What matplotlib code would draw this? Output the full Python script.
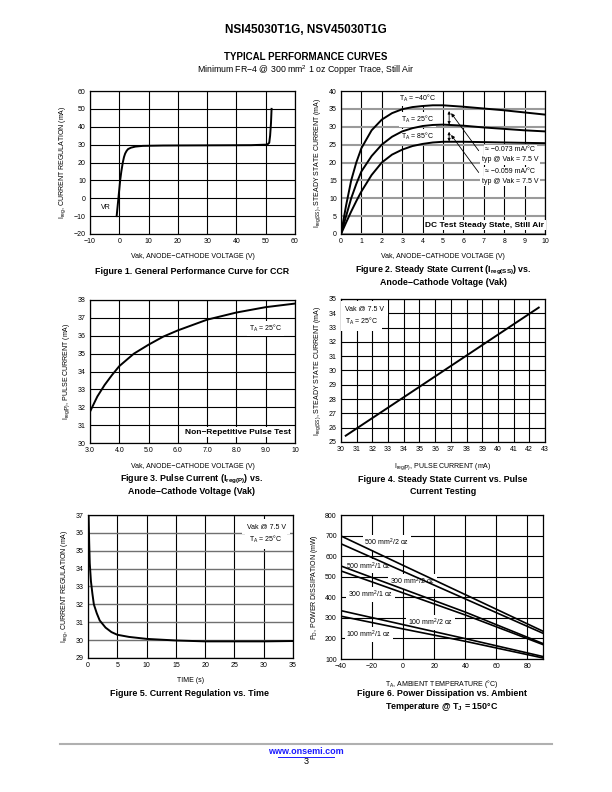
import numpy as np
import matplotlib
matplotlib.use("Agg")
import matplotlib.pyplot as plt
from matplotlib.lines import Line2D

plt.rcParams['font.family'] = ['Liberation Sans', 'DejaVu Sans']
plt.rcParams['mathtext.fontset'] = 'custom'
plt.rcParams['mathtext.rm'] = 'Liberation Sans'
plt.rcParams['mathtext.bf'] = 'Liberation Sans:bold'
plt.rcParams['mathtext.it'] = 'Liberation Sans:italic'

# ---- data ----
# Fig 1: general CCR curve
vak1 = [-0.9, -0.6, -0.3, 0.0, 0.3, 0.7, 1.2, 1.6, 2.0, 2.5, 3.0, 4.0, 5.5, 8.0,
        15, 30, 45, 50.5, 51.2, 51.5, 51.8, 52.0]
ireg1 = [-10, -5, 0, 5, 10, 15, 20, 23, 25, 26.5, 27.5, 28.3, 28.9, 29.3,
         29.5, 29.6, 29.7, 30.0, 31, 35, 42, 50]

# Fig 2: steady state current vs Vak
vak2 = [0, 0.25, 0.5, 0.75, 1, 1.5, 2, 2.5, 3, 3.5, 4, 4.5, 5, 6, 7, 8, 9, 10]
iss_m40 = [0, 8, 15, 20, 24, 29, 32, 33.8, 34.9, 35.5, 35.8, 36.0, 36.0, 35.6, 35.1, 34.6, 34.0, 33.4]
iss_25 = [0, 5, 10, 14, 17.5, 21.8, 25.0, 27.2, 28.7, 29.6, 30.2, 30.5, 30.6, 30.3, 29.8, 29.4, 29.0, 28.7]
iss_85 = [0, 3.2, 6.3, 9.2, 11.9, 16.5, 20, 22.2, 23.6, 24.6, 25.2, 25.6, 25.8, 25.8, 25.7, 25.6, 25.5, 25.4]

# Fig 3: pulse current vs Vak
vak3 = [3.0, 3.25, 3.5, 3.75, 4.0, 4.5, 5.0, 5.5, 6.0, 7.0, 8.0, 9.0, 10.0]
ipulse3 = [31.75, 32.6, 33.25, 33.8, 34.3, 35.0, 35.5, 35.95, 36.3, 36.9, 37.3, 37.6, 37.8]

# Fig 4: steady state vs pulse current
ipulse4 = [30.3, 35.0, 42.6]
iss4 = [25.44, 28.86, 34.4]

# Fig 5: current regulation vs time
time5 = [0.1, 0.2, 0.3, 0.5, 0.75, 1, 1.5, 2, 3, 4, 5, 7, 10, 15, 20, 25, 30, 35]
ireg5 = [37, 35.5, 34.3, 33.3, 32.6, 32.0, 31.5, 31.1, 30.7, 30.45, 30.3, 30.18,
         30.07, 29.98, 29.93, 29.93, 29.93, 29.95]

# Fig 6: power dissipation vs ambient temperature
temp6 = [-40, 0, 40, 90]
pd_500_2 = [698, 555, 413, 235]
pd_500_1 = [660, 526, 392, 225]
pd_300_2 = [552, 440, 328, 175]
pd_300_1 = [528, 421, 314, 170]
pd_100_2 = [335, 267, 199, 112]
pd_100_1 = [308, 246, 186, 105]

W, H = 612, 792
fig = plt.figure(figsize=(W / 100, H / 100), dpi=100)


def rect(l, t, r, b):
    return [l / W, 1 - b / H, (r - l) / W, (b - t) / H]


def style(ax, hcol='black', vcol='black', hlw=0.8, vlw=0.8):
    ax.set_axisbelow(True)
    ax.grid(True, axis='y', color=hcol, lw=hlw)
    ax.grid(True, axis='x', color=vcol, lw=vlw)
    ax.tick_params(length=0, pad=3, labelsize=5)
    for s in ax.spines.values():
        s.set_linewidth(0.9)


TS = 5
DEG = '\u00b0C'
MINUS = '\u2212'
box = dict(facecolor='white', edgecolor='none', pad=1.2)

# ---------- Figure 1 ----------
ax1 = fig.add_axes(rect(90, 91, 295, 234))
ax1.plot(vak1, ireg1, color='black', lw=1.4)
ax1.set_xlim(-10, 60)
ax1.set_ylim(-20, 60)
ax1.set_xticks(range(-10, 61, 10))
ax1.set_yticks(range(-20, 61, 10))
style(ax1)
ax1.text(-4.7, -5.1, 'VR', fontsize=TS, ha='center', va='center')
ax1.set_xlabel('Vak, ANODE' + MINUS + 'CATHODE VOLTAGE (V)', fontsize=TS, labelpad=6)
ax1.set_ylabel(r'I$_{\rm reg}$, CURRENT REGULATION (mA)', fontsize=TS, labelpad=4)

# ---------- Figure 2 ----------
ax2 = fig.add_axes(rect(341, 91, 545, 234))
for y in (iss_m40, iss_25, iss_85):
    ax2.plot(vak2, y, color='black', lw=1.4, zorder=3)
ax2.set_xlim(0, 10)
ax2.set_ylim(0, 40)
ax2.set_xticks(range(0, 11))
ax2.set_yticks(range(0, 41, 5))
style(ax2, hcol='#9a9a9a', hlw=1.5)
ax2.text(3.75, 37.8, r'T$_{\rm A}$ = ' + MINUS + '40' + DEG,
         fontsize=TS, ha='center', va='center', bbox=box, zorder=2)
ax2.text(3.75, 32.1, r'T$_{\rm A}$ = 25' + DEG, fontsize=TS, ha='center', va='center', bbox=box, zorder=2)
ax2.text(3.75, 27.2, r'T$_{\rm A}$ = 85' + DEG, fontsize=TS, ha='center', va='center', bbox=box, zorder=2)
ax2.text(8.3, 23.5, '\u2248 ' + MINUS + '0.073 mA/' + DEG, fontsize=TS, ha='center', va='center', bbox=box)
ax2.text(8.3, 20.7, 'typ @ Vak = 7.5 V', fontsize=TS, ha='center', va='center', bbox=box)
ax2.text(8.3, 17.4, '\u2248 ' + MINUS + '0.059 mA/' + DEG, fontsize=TS, ha='center', va='center', bbox=box)
ax2.text(8.3, 14.8, 'typ @ Vak = 7.5 V', fontsize=TS, ha='center', va='center', bbox=box)
ax2.text(7.05, 2.5, 'DC Test Steady State, Still Air', fontsize=6, fontweight='bold',
         ha='center', va='center', bbox=box)
arw = dict(arrowstyle='<|-|>', color='black', lw=0.6, mutation_scale=4, shrinkA=0, shrinkB=0)
ax2.annotate('', xy=(5.3, 34.4), xytext=(5.3, 30.6), arrowprops=arw)
ax2.annotate('', xy=(5.3, 28.6), xytext=(5.3, 25.9), arrowprops=arw)
arw1 = dict(arrowstyle='-|>', color='black', lw=0.6, mutation_scale=5, shrinkA=0, shrinkB=0)
ax2.annotate('', xy=(5.4, 33.8), xytext=(6.75, 23.3), arrowprops=arw1)
ax2.annotate('', xy=(5.4, 27.7), xytext=(6.75, 17.2), arrowprops=arw1)
ax2.set_xlabel('Vak, ANODE' + MINUS + 'CATHODE VOLTAGE (V)', fontsize=TS, labelpad=6)
ax2.set_ylabel(r'I$_{\rm reg(SS)}$, STEADY STATE CURRENT (mA)', fontsize=TS, labelpad=4)

# ---------- Figure 3 ----------
ax3 = fig.add_axes(rect(90, 300, 295, 443))
ax3.plot(vak3, ipulse3, color='black', lw=1.4)
ax3.set_xlim(3, 10)
ax3.set_ylim(30, 38)
ax3.set_xticks(range(3, 11))
ax3.set_xticklabels(['3.0', '4.0', '5.0', '6.0', '7.0', '8.0', '9.0', '10'])
ax3.set_yticks(range(30, 39))
style(ax3)
ax3.text(9.0, 36.4, r'T$_{\rm A}$ = 25' + DEG, fontsize=TS, ha='center', va='center', bbox=box)
ax3.text(8.05, 30.6, 'Non' + MINUS + 'Repetitive Pulse Test', fontsize=6, fontweight='bold',
         ha='center', va='center', bbox=box)
ax3.set_xlabel('Vak, ANODE' + MINUS + 'CATHODE VOLTAGE (V)', fontsize=TS, labelpad=6)
ax3.set_ylabel(r'I$_{\rm reg(P)}$, PULSE CURRENT (mA)', fontsize=TS, labelpad=4)

# ---------- Figure 4 ----------
ax4 = fig.add_axes(rect(341, 299, 545, 442))
ax4.plot(ipulse4, iss4, color='black', lw=1.4)
ax4.set_xlim(30, 43)
ax4.set_ylim(25, 35)
ax4.set_xticks(range(30, 44))
ax4.set_yticks(range(25, 36))
style(ax4)
ax4.text(30.25, 34.35, 'Vak @ 7.5 V', fontsize=TS, ha='left', va='center',
         bbox=dict(facecolor='white', edgecolor='none', pad=3))
ax4.text(30.25, 33.45, r'T$_{\rm A}$ = 25' + DEG, fontsize=TS, ha='left', va='center',
         bbox=dict(facecolor='white', edgecolor='none', pad=3))
ax4.set_xlabel(r'I$_{\rm reg(P)}$, PULSE CURRENT (mA)', fontsize=TS, labelpad=6)
ax4.set_ylabel(r'I$_{\rm reg(SS)}$, STEADY STATE CURRENT (mA)', fontsize=TS, labelpad=4)

# ---------- Figure 5 ----------
ax5 = fig.add_axes(rect(88, 515, 293, 658))
ax5.plot(time5, ireg5, color='black', lw=1.4)
ax5.set_xlim(0, 35)
ax5.set_ylim(29, 37)
ax5.set_xticks(range(0, 36, 5))
ax5.set_yticks(range(29, 38))
style(ax5, hcol='#707070', hlw=1.0)
ax5.text(30.4, 36.35, 'Vak @ 7.5 V', fontsize=TS, ha='center', va='center',
         bbox=dict(facecolor='white', edgecolor='none', pad=3))
ax5.text(30.4, 35.65, r'T$_{\rm A}$ = 25' + DEG, fontsize=TS, ha='center', va='center',
         bbox=dict(facecolor='white', edgecolor='none', pad=3))
ax5.set_xlabel('TIME (s)', fontsize=TS, labelpad=6)
ax5.set_ylabel(r'I$_{\rm reg}$, CURRENT REGULATION (mA)', fontsize=TS, labelpad=4)

# ---------- Figure 6 ----------
ax6 = fig.add_axes(rect(341, 515, 543, 659))
for y in (pd_500_2, pd_500_1, pd_300_2, pd_300_1, pd_100_2, pd_100_1):
    ax6.plot(temp6, y, color='black', lw=1.2, zorder=3)
ax6.set_xlim(-40, 90)
ax6.set_ylim(100, 800)
ax6.set_xticks(range(-40, 81, 20))
ax6.set_yticks(range(100, 801, 100))
style(ax6)
lab6 = [('500 mm$^2$/2 oz', -10.5, 667), ('500 mm$^2$/1 oz', -22, 552),
        ('300 mm$^2$/2 oz', 6, 476), ('300 mm$^2$/1 oz', -21, 414),
        ('100 mm$^2$/2 oz', 17.5, 277), ('100 mm$^2$/1 oz', -22, 220)]
for s, x, y in lab6:
    ax6.text(x, y, s, fontsize=TS, ha='center', va='center', bbox=box, zorder=2)
ax6.set_xlabel(r'T$_{\rm A}$, AMBIENT TEMPERATURE (' + DEG + ')', fontsize=TS, labelpad=6)
ax6.set_ylabel(r'P$_{\rm D}$, POWER DISSIPATION (mW)', fontsize=TS, labelpad=4)

# ---------- page texts ----------
def ftext(x, y, s, **kw):
    fig.text(x / W, 1 - y / H, s, ha='center', va='center', **kw)


CS = 6.4
ftext(306, 30, 'NSI45030T1G, NSV45030T1G', fontsize=8.5, fontweight='bold')
ftext(306, 57, 'TYPICAL PERFORMANCE CURVES', fontsize=7, fontweight='bold')
ftext(306, 70, 'Minimum FR' + MINUS + '4 @ 300 mm$^2$ 1 oz Copper Trace, Still Air', fontsize=6.3)

ftext(192, 271, 'Figure 1. General Performance Curve for CCR', fontsize=CS, fontweight='bold')
ftext(443, 270, r'Figure 2. Steady State Current (I$_{\mathbf{reg(SS)}}$) vs.', fontsize=CS, fontweight='bold')
ftext(443, 283, 'Anode' + MINUS + 'Cathode Voltage (Vak)', fontsize=CS, fontweight='bold')
ftext(192, 479, r'Figure 3. Pulse Current (I$_{\mathbf{reg(P)}}$) vs.', fontsize=CS, fontweight='bold')
ftext(192, 492, 'Anode' + MINUS + 'Cathode Voltage (Vak)', fontsize=CS, fontweight='bold')
ftext(443, 480, 'Figure 4. Steady State Current vs. Pulse', fontsize=CS, fontweight='bold')
ftext(443, 492, 'Current Testing', fontsize=CS, fontweight='bold')
ftext(190, 694, 'Figure 5. Current Regulation vs. Time', fontsize=CS, fontweight='bold')
ftext(442, 694, 'Figure 6. Power Dissipation vs. Ambient', fontsize=CS, fontweight='bold')
ftext(442, 707, r'Temperature @ T$_{\mathbf{J}}$ = 150' + DEG, fontsize=CS, fontweight='bold')

fig.add_artist(Line2D([60 / W, 552 / W], [1 - 744 / H] * 2, color='#b0b0b0', lw=1.5))
ftext(306, 752, 'www.onsemi.com', fontsize=6.5, fontweight='bold', color='#1a1aff')
fig.add_artist(Line2D([278 / W, 334 / W], [1 - 757 / H] * 2, color='#1a1aff', lw=0.7))
ftext(306, 762, '3', fontsize=6.5)

fig.savefig('out.png', dpi=100)
